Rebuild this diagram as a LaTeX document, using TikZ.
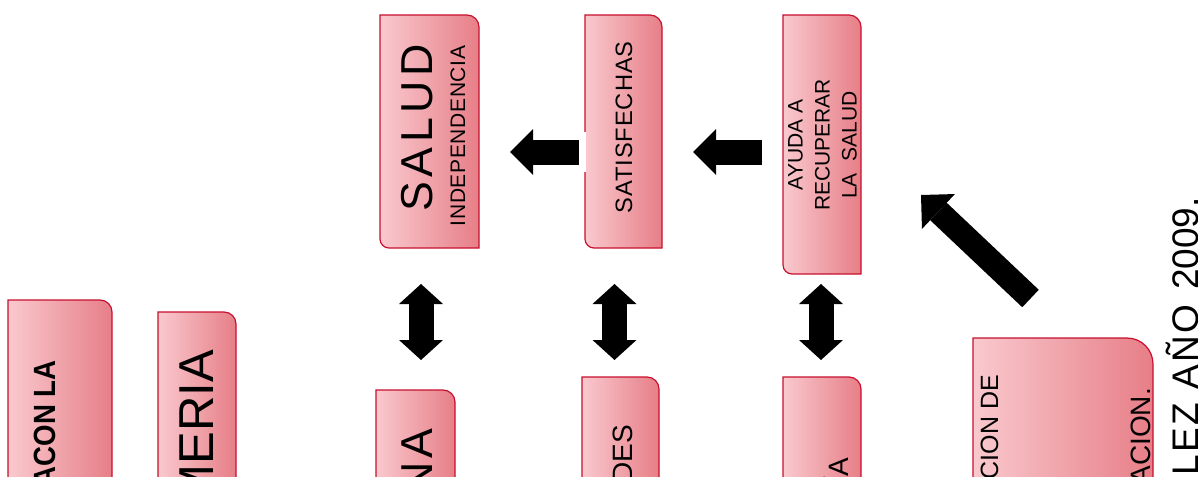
\documentclass[tikz,border=0pt]{standalone}
\usepackage{fontspec}
\setmainfont{Liberation Sans}
\usepackage{xcolor}
\usepackage{tikz}
\usetikzlibrary{
    positioning,
    arrows.meta,
    calc
}
\definecolor{cajaRojo}{RGB}{200, 16, 46}
\definecolor{rosaClaro}{RGB}{249, 201, 206}
\definecolor{rosaOscuro}{RGB}{231, 126, 135}
\newcommand{\tam}[2]{\fontsize{#1}{#2}\selectfont}
\newcommand{\caja}[6]{%
    \draw[caja] (#1,#2) [rounded corners=#5pt] -- (#3,#2) [sharp corners] -- (#3,#4)
        [rounded corners=#6pt] -- (#1,#4) [sharp corners] -- cycle;
}
\tikzset{
    caja/.style={draw=cajaRojo, line width=1.2pt, left color=rosaClaro, right color=rosaOscuro},
    texto/.style={rotate=90, inner sep=0pt, text=black},
    flechaH/.style={line width=25pt, >={Triangle[length=23pt, width=46pt, line width=0pt]}, ->},
    flechaV/.style={line width=25pt, >={Triangle[length=20pt, width=44pt, line width=0pt]}, <->},
    flechaD/.style={line width=24pt, >={Triangle[length=24pt, width=48pt, line width=0pt]}, ->}
}

\begin{document}
\begin{tikzpicture}[x=1pt, y=-1pt]
            \useasboundingbox (0,0) rectangle (1198,476);
            \caja{380}{15}{479}{248}{12}{9}
            \caja{585}{15}{662}{248}{12}{9}
            \caja{783}{15}{861}{274}{12}{9}
            \caja{8}{300}{112}{560}{12}{9}
            \caja{158}{312}{236}{560}{12}{9}
            \caja{376}{390}{455}{560}{12}{9}
            \caja{582}{377}{659}{560}{12}{9}
            \caja{783}{377}{861}{560}{12}{9}
            \caja{973}{338}{1153}{600}{26}{9}
            \draw[white, line width=2pt] (585,132) -- (585,172);
            \coordinate (h1a) at (579,152);
            \coordinate (h1b) at (510,152);
            \coordinate (h2a) at (762,152);
            \coordinate (h2b) at (693,152);
            \coordinate (v1a) at (421,284);
            \coordinate (v1b) at (421,360);
            \coordinate (v2a) at (614.5,284);
            \coordinate (v2b) at (614.5,360);
            \coordinate (v3a) at (821,284);
            \coordinate (v3b) at (821,360);
            \coordinate (d1a) at (1030.5,298.5);
            \coordinate (d1b) at (921,195);
            \draw[flechaH] (h1a) -- (h1b);
            \draw[flechaH] (h2a) -- (h2b);
            \draw[flechaV] (v1a) -- (v1b);
            \draw[flechaV] (v2a) -- (v2b);
            \draw[flechaV] (v3a) -- (v3b);
            \draw[flechaD] (d1a) -- (d1b);
            \node[texto, font=\tam{44.7}{50}\addfontfeature{LetterSpace=10}, anchor=base] (salud) at (432,128) {SALUD};
            \node[texto, font=\tam{21}{25}\addfontfeature{LetterSpace=3}, anchor=base] (indep) at (465,136) {INDEPENDENCIA};
            \node[texto, font=\tam{23.7}{28}\addfontfeature{LetterSpace=4}, anchor=base] (satis) at (632,127.5) {SATISFECHAS};
            \node[texto, font=\tam{21}{27}, align=center] (ayuda) at (822.5,145) {AYUDA A\\RECUPERAR\\LA\ \ SALUD};
            \node[texto, font=\tam{30.7}{36}\bfseries\addfontfeature{FakeStretch=0.9}, anchor=base east] (relac) at (55,360) {ACON LA};
            \node[texto, font=\tam{49}{56}, anchor=base east] (enfer) at (213,350) {MERIA};
            \node[texto, font=\tam{44.7}{50}\addfontfeature{LetterSpace=10}, anchor=base east] (perso) at (432,428) {NA};
            \node[texto, font=\tam{28}{32}, anchor=base east] (neces) at (632,425) {DES};
            \node[texto, font=\tam{28}{32}, anchor=base east] (entor) at (848,458) {ÍA};
            \node[texto, font=\tam{25}{30}, anchor=base east] (valor) at (998,375) {CION DE};
            \node[texto, font=\tam{28}{32}, anchor=base east] (evalu) at (1150,388) {ACION.};
            \node[texto, font=\tam{37}{42}\addfontfeature{LetterSpace=7}, anchor=base east] (autor) at (1198,304) {LEZ AÑO};
            \node[texto, font=\tam{37}{42}, anchor=base east] (anio) at (1198,197) {2009.};
        \end{tikzpicture}
\end{document}
